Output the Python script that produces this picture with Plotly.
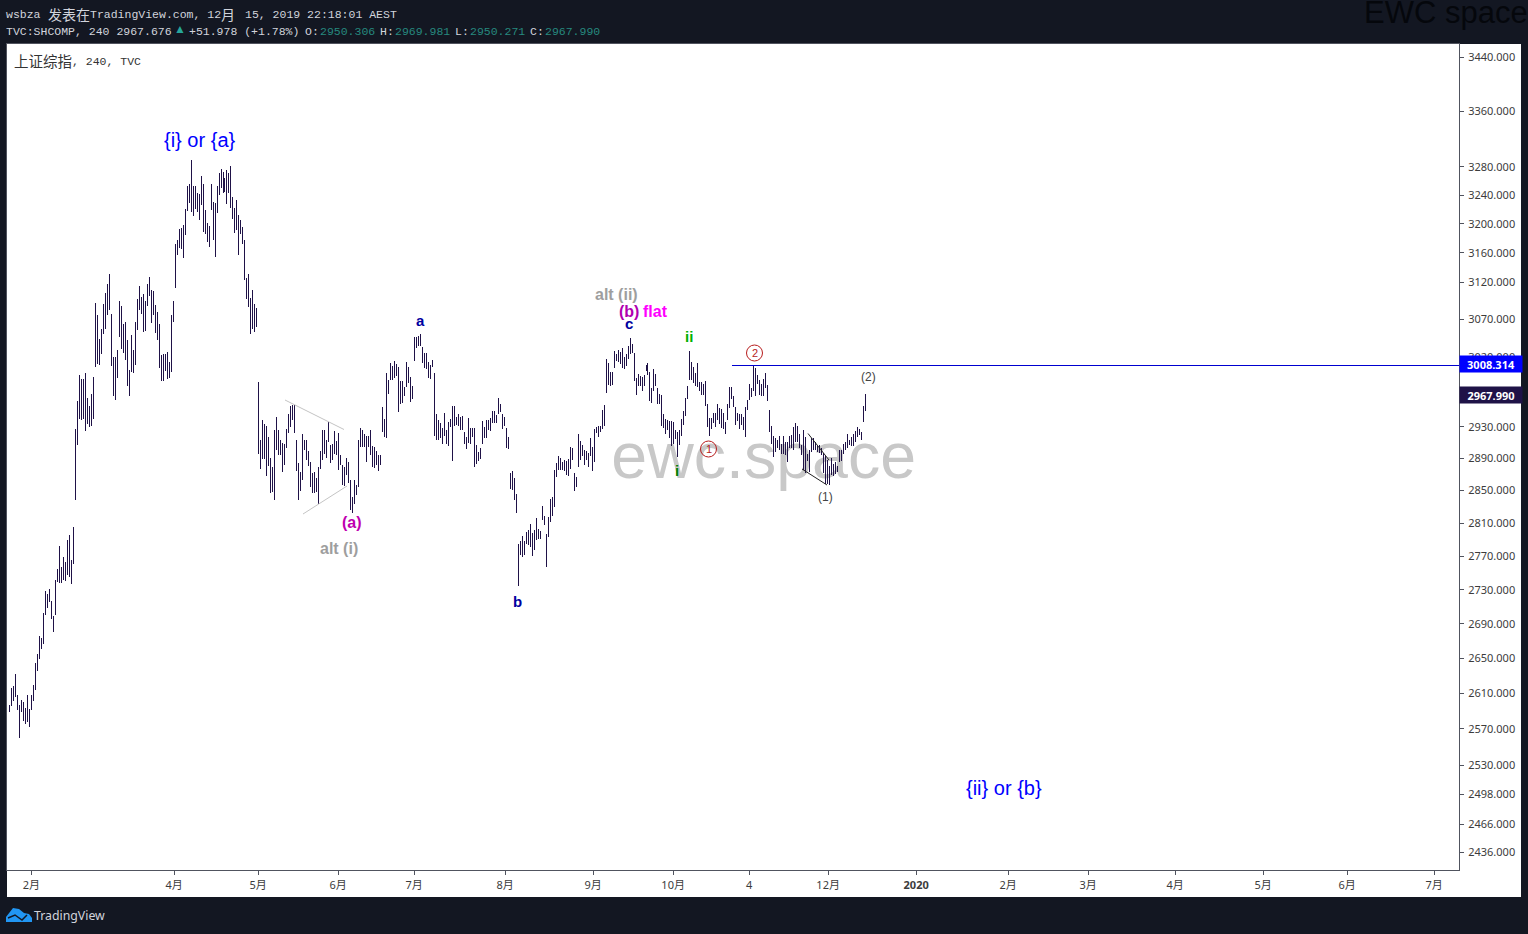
import numpy as np
import plotly.graph_objects as go

# 240 min bars of TVC:SHCOMP, oldest first
highs = [
    2596.6,2615.9,2618.2,2631.8,2608,2596.6,2602.3,2600,2593.3,2608,2592,2608,2619.3,2644.4,2654.8,2675.5,2673.2,
    2702.4,2728.3,2724.8,2730.7,2716.5,2698.9,2741.4,2754.5,2782.1,2756.9,2768.8,2762.8,2789.4,2795.5,2765.2,2805.1,
    2927.1,2962.8,2996.5,2991.3,2991.3,2999.1,2966.7,2956.4,2971.9,2993.9,
    3091.6,3075.5,3043.6,3056.9,3090.3,3105,3117.2,3130.8,3076.9,3020,3020,3029.2,3094.3,3087.6,3063.6,3066.2,
    3042.3,3003,3049,3029.2,3066.2,3097,3114.5,3099.7,3103.8,3094.3,3117.2,3126.7,3109.1,3107.7,3088.9,3079.6,
    3063.6,3022.6,3024,3024,3026.5,3013.4,3075.5,3094.3,3171.8,3177.3,3192.5,3193.9,3198,3220.4,3252.7,3255.5,
    3289.6,3252.7,3252.7,3242.8,3241.4,3266.8,3255.5,3219,3200.8,3196.6,3255.5,3230.2,3228.8,3252.7,3271,3276.7,
    3272.4,3264,3275.3,3271,3281,3237.2,3221.8,3233,3212,3205,3195.2,3177.3,3125.3,3130.8,3098.3,3109.1,3090.3,3084.9,
    2987.4,2913.1,2938.5,2933.4,2930.9,2916.9,2890.4,2879.2,2925.8,2942.3,2925.8,2913.1,2909.3,2908,2927.1,2946.2,
    2956.4,2957.7,2957.7,2913.1,2884.1,2872.9,2920.7,2913.1,2913.1,2899.2,2885.4,2871.6,2872.9,2865.4,2879.2,2899.2,
    2925.8,2925.8,2913.1,2935.9,2906.8,2908,2924.5,2911.8,2922,2894.2,2881.6,2879.2,2890.4,2885.4,2862.9,2841.9,
    2862.9,2856.7,2913.1,2928.3,2925.8,2920.7,2918.2,2918.2,2925.8,2905.6,2904.3,2899.2,2894.2,2894.2,2955.1,2939.8,
    2999.1,2990,3012.1,3008.2,3014.7,3010.8,3006.9,2988.7,2988.7,2980.9,3013.4,3006.9,2993.9,2982.2,3046.3,3046.3,
    3047.6,3050.3,3033.1,3025.2,3025.2,3013.4,3009.5,3016,2999.1,2946.2,2938.5,2934.7,2928.3,2947.5,2925.8,2935.9,
    2939.8,2956.4,2956.4,2942.3,2946.2,2942.3,2943.6,2923.2,2916.9,2941.1,2928.3,2928.3,2928.3,2906.8,2898,2903,
    2937.2,2929.6,2938.5,2938.5,2941.1,2950,2950,2944.9,2966.7,2959,2946.2,2942.3,2928.3,2916.9,2871.6,2874.1,2865.4,2845.6,
    2784.6,2788.2,2794.3,2788.2,2799.1,2801.5,2808.7,2797.9,2801.5,2816,2802.7,2800.3,2830.8,2818.5,2796.7,2817.3,
    2839.4,2841.9,2875.4,2884.1,2892.9,2890.4,2885.4,2887.9,2886.6,2889.2,2904.3,2903,2871.6,2866.7,2920.7,2911.8,
    2906.8,2900.5,2899.2,2896.8,2915.6,2904.3,2927.1,2929.6,2930.9,2930.9,2951.3,2957.7,3017.3,3012.1,3000.4,3000.4,
    3027.9,3024,3029.2,3026.5,3031.8,3020,3024,3034.4,3045,3037.1,3025.2,2992.6,2997.8,2995.2,2993.9,2996.5,
    3009.5,3012.1,3000.4,2979.6,3004.3,2997.8,2979.6,2971.9,2970.6,2946.2,2939.8,2938.5,2937.2,2937.2,2935.9,2925.8,
    2923.2,2925.8,2939.8,2950,2966.7,2982.2,3027.9,3013.4,3006.9,2999.1,3012.1,2987.4,
    2987.4,2984.8,2988.7,2959,2941.1,2941.1,2947.5,2947.5,2959,2953.8,2952.6,2947.5,2935.9,2959,2980.9,2980.9,
    2969.3,2955.1,2947.5,2946.2,2946.2,2942.3,2955.1,2964.1,2984.8,2979.6,3009.5,3005.6,2996.5,2990,2984.8,2991.3,
    2999.1,2983.5,2951.3,2930.9,2918.2,2915.6,2913.1,2918.2,2908,2918.2,2910.6,2910.6,2918.2,2919.4,2929.6,2934.7,
    2930.9,2920.7,2906.8,2925.8,2916.9,2896,2900.5,2915.6,2915.6,2910.6,2905.6,2906.8,2903,2896.8,2892.9,2887.9,
    2880.4,2890.4,2883,2885.4,2880.4,2900.5,2900.5,2908,2910.6,2920.7,2913.1,2916.9,2920.7,2924.5,2929.6,2927.1,2923.2,2956.4,2971.9,
]
lows = [
    2588.8,2595.5,2601.2,2605.7,2591,2559.7,2588.8,2578.7,2575.3,2577.6,2572,2591,2601.2,2613.6,2635.3,2649,2660.5,
    2666.3,2700,2708.3,2715.3,2695.4,2680.2,2700,2739,2737.8,2737.8,2741.4,2740.2,2747.3,2745,2736.7,2760.4,
    2838.2,2906.8,2939.8,2938.5,2939.8,2924.5,2933.4,2929.6,2930.9,2939.8,
    3006.9,3010.8,3009.5,3024,3050.3,3056.9,3075.5,3082.2,3008.2,2969.3,2964.1,2992.6,3046.3,3030.5,3025.2,3016,
    2982.2,2969.3,3000.4,2999.1,3009.5,3055.6,3082.2,3076.9,3052.9,3054.3,3087.6,3101,3064.9,3075.5,3051.6,3042.3,
    3005.6,2988.7,2988.7,3001.7,2991.3,2992.6,3000.4,3066.2,3111.8,3156.8,3166.3,3165,3152.5,3184.2,3217.6,3228.8,
    3216.2,3210.6,3220.4,3216.2,3205,3226,3188.3,3185.6,3174.5,3167.7,3219,3177.3,3153.9,3214.8,3240,3249.8,
    3242.8,3244.2,3227.4,3242.8,3221.8,3206.4,3186.9,3191.1,3156.9,3185.6,3171.8,3122.6,3097,3086.3,3050.3,3056.9,3052.9,3060.3,
    2895.5,2876.6,2889.2,2889.2,2867.9,2880.4,2846.9,2848.2,2838.2,2900.5,2894.2,2894.2,2872.9,2881.6,2903,2922,
    2929.6,2938.5,2922,2874.1,2838.2,2849.4,2862.9,2900.5,2887.9,2880.4,2854.3,2846.9,2846.9,2848.2,2833.3,2876.6,
    2887.9,2895.5,2890.4,2910.6,2884.1,2887.9,2895.5,2894.2,2875.4,2881.6,2856.7,2855.5,2869.2,2859.2,2825.9,2822.2,
    2833.3,2844.4,2854.3,2904.3,2904.3,2904.3,2885.4,2904.3,2894.2,2879.2,2877.9,2881.6,2874.1,2881.6,2923.2,2916.9,
    2915.6,2971.9,2990,2990,2992.6,2995.2,2948.7,2959,2960.3,2969.3,2980.9,2986.1,2961.5,2965.4,3014.7,3031.8,
    3034.4,3034.4,3012.1,3005.6,3004.3,2992.6,2991.3,3006.9,2918.2,2913.1,2913.1,2915.6,2908,2918.2,2908,2905.6,
    2929.6,2886.6,2930.9,2932.1,2930.9,2925.8,2925.8,2908,2901.8,2909.3,2908,2916.9,2879.2,2883,2886.6,2889.2,
    2908,2915.6,2915.6,2925.8,2924.5,2934.7,2934.7,2934.7,2946.2,2948.7,2927.1,2930.9,2903,2901.8,2851.8,2850.6,2838.2,2822.2,
    2734.2,2771.2,2768.8,2771.2,2784.6,2783.4,2780.9,2770,2777.3,2789.4,2790.6,2790.6,2813.6,2807.5,2756.9,2793.1,
    2811.2,2818.5,2829.6,2866.7,2875.4,2875.4,2875.4,2874.1,2869.2,2867.9,2876.6,2887.9,2849.4,2854.3,2879.2,2887.9,
    2892.9,2881.6,2887.9,2879.2,2892.9,2874.1,2885.4,2922,2916.9,2923.2,2927.1,2930.9,2973.2,2983.5,2982.2,2983.5,
    3005.6,3014.7,3013.4,3010.8,3005.6,3004.3,3008.2,3017.3,3024,3025.2,2988.7,2970.6,2982.2,2982.2,2975.7,2982.2,
    3001.7,2996.5,2962.8,2960.3,2975.7,2982.2,2959,2959,2930.9,2928.3,2920.7,2925.8,2915.6,2905.6,2908,2914.4,
    2891.7,2906.8,2918.2,2932.1,2943.6,2965.4,2990,2990,2986.1,2982.2,2980.9,2975.7,
    2970.6,2970.6,2956.4,2929.6,2918.2,2927.1,2934.7,2929.6,2938.5,2933.4,2928.3,2927.1,2920.7,2938.5,2953.8,2965.4,
    2955.1,2932.1,2937.2,2927.1,2932.1,2925.8,2916.9,2951.3,2964.1,2968,2975.7,2969.3,2984.8,2970.6,2969.3,2969.3,
    2979.6,2962.8,2923.2,2908,2891.7,2898,2903,2900.5,2895.5,2895.5,2894.2,2885.4,2903,2903,2900.5,2910.6,
    2910.6,2903,2894.2,2875.4,2871.6,2886.6,2872.9,2898,2900.5,2900.5,2898,2896.8,2894.2,2871.6,2857.9,2857.9,
    2856.7,2869.2,2867.9,2870.4,2872.9,2885.4,2886.6,2895.5,2900.5,2903,2906.8,2905.6,2905.6,2910.6,2916.9,2919.4,2913.1,2935.9,2950,
]

price_ticks = [3440,3360,3280,3240,3200,3160,3120,3070,3020,2930,2890,2850,2810,2770,2730,2690,2650,2610,2570,2530,2498,2466,2436]
time_tick_slots = [11,82.5,124.6,164.7,202.8,248.4,292.5,332.6,370.7,410.3,454.4,500.5,540.6,584.2,628.3,670.4,714]
time_tick_labels = ['2月','4月','5月','6月','7月','8月','9月','10月','4','12月','<b>2020</b>','2月','3月','4月','5月','6月','7月']

resistance = 3008.4
resistance_slots = [362, 727]
last_close = 2967.990

W, H = 1528, 934
L, R, T, B = 7, 1459, 44, 870
BG = '#131722'
BAR = '#1f1247'
MONO = 'Liberation Mono, Noto Sans CJK SC, monospace'
SANS = 'Liberation Sans, Arial, sans-serif'
CJK = 'Noto Sans CJK SC, sans-serif'

# pixel helpers, for the drawings and text that sit on the canvas
def fx(px):
    return (px - L) / (R - L)

def fy(py):
    return (B - py) / (B - T)

annotations = []

def note(px, py, text, color, size, font=SANS, anchor='center'):
    # annotations carry a small inner pad, take it back on left aligned text
    if anchor == 'left':
        px -= 2
    annotations.append(dict(xref='paper', yref='paper', x=fx(px), y=fy(py - 1), text=text, showarrow=False,
                            xanchor=anchor, yanchor='middle', font=dict(family=font, size=size, color=color)))

shapes = []

def segment(x0, y0, x1, y1, color):
    shapes.append(dict(type='line', xref='paper', yref='paper', x0=fx(x0), y0=fy(y0), x1=fx(x1), y1=fy(y1),
                       line=dict(color=color, width=1)))

def block(x0, y0, x1, y1, color, layer='below'):
    shapes.append(dict(type='rect', xref='paper', yref='paper', x0=fx(x0), y0=fy(y0), x1=fx(x1), y1=fy(y1),
                       fillcolor=color, line=dict(width=0), layer=layer))

def circle(cx, cy, r, color):
    shapes.append(dict(type='circle', xref='paper', yref='paper', x0=fx(cx - r), y0=fy(cy - r), x1=fx(cx + r), y1=fy(cy + r),
                       line=dict(color=color, width=1)))

fig = go.Figure()

# watermark goes first so the bars sit on top of it
fig.add_trace(go.Scatter(x=[378], y=[2885.5], mode='text', text=['ewc.space'], hoverinfo='skip',
                         textfont=dict(family=SANS, size=64.5, color='#c8c8c8')))

bars_x, bars_y = [], []
for i, (hi, lo) in enumerate(zip(highs, lows)):
    bars_x += [i, i, None]
    bars_y += [hi, lo, None]
fig.add_trace(go.Scatter(x=bars_x, y=bars_y, mode='lines', line=dict(color=BAR, width=1), hoverinfo='skip'))

# resistance line from the c leg to the axis
fig.add_trace(go.Scatter(x=resistance_slots, y=[resistance, resistance], mode='lines',
                         line=dict(color='#0000d0', width=1), hoverinfo='skip'))

# white panels of the two axes
block(R, T, 1521, 897, '#ffffff')
block(L, B, R, 897, '#ffffff')

# hand drawn lines
segment(285, 400, 344, 429.5, '#c4c4c4')
segment(303, 514, 347, 486, '#c4c4c4')
segment(808, 433.5, 829, 460, '#222222')
segment(802, 469, 827, 485, '#222222')
circle(754.5, 353, 8, '#b71c1c')
circle(708.5, 449, 8, '#b71c1c')

# wave labels
note(199.5, 141, '{i} or {a}', '#0000ff', 20)
note(1003.5, 789, '{ii} or {b}', '#0000ff', 20)
note(616, 295, '<b>alt (ii)</b>', '#9e9e9e', 16)
note(339, 549, '<b>alt (i)</b>', '#9e9e9e', 16)
note(629, 312.5, '<b>(b)</b>', '#b000b0', 16)
note(655, 312.5, '<b>flat</b>', '#ff00ff', 16)
note(352, 523, '<b>(a)</b>', '#c000b0', 16)
note(420, 321, '<b>a</b>', '#0000a0', 15)
note(517, 602, '<b>b</b>', '#0000a0', 15)
note(629, 324.5, '<b>c</b>', '#0000a0', 15)
note(689, 337, '<b>ii</b>', '#00b000', 15)
note(677, 472, '<b>i</b>', '#008000', 15)
note(754.5, 354, '2', '#b71c1c', 11)
note(708.5, 450, '1', '#b71c1c', 11)
note(826, 498, '(1)', '#444444', 12)
note(868, 378, '(2)', '#444444', 12)

# header
note(6, 15, 'wsbza', '#d1d4dc', 11.5, MONO, 'left')
note(48, 15, '发表在', '#d1d4dc', 14, CJK, 'left')
note(90, 15, 'TradingView.com, 12', '#d1d4dc', 11.5, MONO, 'left')
note(221, 15, '月', '#d1d4dc', 14, CJK, 'left')
note(245, 15, '15, 2019 22:18:01 AEST', '#d1d4dc', 11.5, MONO, 'left')
note(6, 32.5, 'TVC:SHCOMP, 240 2967.676', '#d1d4dc', 11.5, MONO, 'left')
note(180, 29.5, '▲', '#26a69a', 12, SANS)
note(189, 32.5, '+51.978 (+1.78%)', '#d1d4dc', 11.5, MONO, 'left')
for px, lab, val in [(305, 'O:', '2950.306'), (380, 'H:', '2969.981'), (455, 'L:', '2950.271'), (530, 'C:', '2967.990')]:
    note(px, 32.5, lab, '#d1d4dc', 11.5, MONO, 'left')
    note(px + 15, 32.5, val, '#26897f', 11.5, MONO, 'left')
note(14, 62, '上证综指', '#333333', 14.5, CJK, 'left')
note(72, 62.5, ', 240, TVC', '#333333', 11.5, MONO, 'left')
note(1530, 13, 'EWC space', '#05070c', 31, SANS, 'right')
note(34, 917, 'TradingView', '#d1d4dc', 12.3, 'Noto Sans, sans-serif', 'left')

# last price tags on the axis
for value, color in [(3008.314, '#0000ff'), (last_close, '#1f1247')]:
    annotations.append(dict(xref='paper', yref='y', x=1, y=np.log10(value), yshift=2.5, text='<b>%.3f</b>' % value, showarrow=False,
                            xanchor='left', yanchor='middle', width=62, height=16, borderpad=0, bgcolor=color, align='center',
                            font=dict(family='Noto Sans, sans-serif', size=11, color='#ffffff')))

# cloud logo
shapes.append(dict(type='path', xref='paper', yref='paper', fillcolor='#2196f3', line=dict(width=0),
                   path='M {} {} L {} {} L {} {} L {} {} L {} {} L {} {} L {} {} L {} {} L {} {} Z'.format(
                       fx(6), fy(922), fx(6), fy(917), fx(13), fy(908), fx(19), fy(909), fx(24), fy(913),
                       fx(29), fy(914), fx(32), fy(918), fx(32), fy(922), fx(6), fy(922))))
shapes.append(dict(type='path', xref='paper', yref='paper', line=dict(color=BG, width=1.5),
                   path='M {} {} L {} {} L {} {} L {} {}'.format(fx(8), fy(918), fx(15), fy(915), fx(22), fy(920), fx(27), fy(915))))

fig.update_layout(
    width=W, height=H, margin=dict(l=L, r=W - R, t=T, b=H - B), showlegend=False,
    paper_bgcolor=BG, plot_bgcolor='#ffffff', shapes=shapes, annotations=annotations,
)
fig.update_xaxes(range=[-1.253, 726.46], tickmode='array', tickvals=time_tick_slots, ticktext=time_tick_labels,
                 showgrid=False, zeroline=False, showline=True, linecolor='#50535e', linewidth=1, mirror=True,
                 ticks='outside', ticklen=4, tickcolor='#50535e', tickangle=0, ticklabelstandoff=1,
                 tickfont=dict(family='Noto Sans, Noto Sans CJK SC, sans-serif', size=11, color='#3c3c3c'))
fig.update_yaxes(type='log', side='right', range=[np.log10(2417.3), np.log10(3459.5)], tickmode='array',
                 tickvals=price_ticks, ticktext=['%.3f' % p for p in price_ticks],
                 showgrid=False, zeroline=False, showline=True, linecolor='#50535e', linewidth=1, mirror=True,
                 ticks='outside', ticklen=4, tickcolor='#50535e', ticklabelstandoff=2,
                 tickfont=dict(family='Noto Sans, sans-serif', size=11, color='#3c3c3c'))

fig.write_html("out.html", config=dict(displayModeBar=False), post_script=(
    "document.body.style.margin='0';document.body.style.background='#131722';"
    "document.querySelectorAll('.scatterlayer .js-line').forEach(function(p){p.style.shapeRendering='crispEdges';});"
))
